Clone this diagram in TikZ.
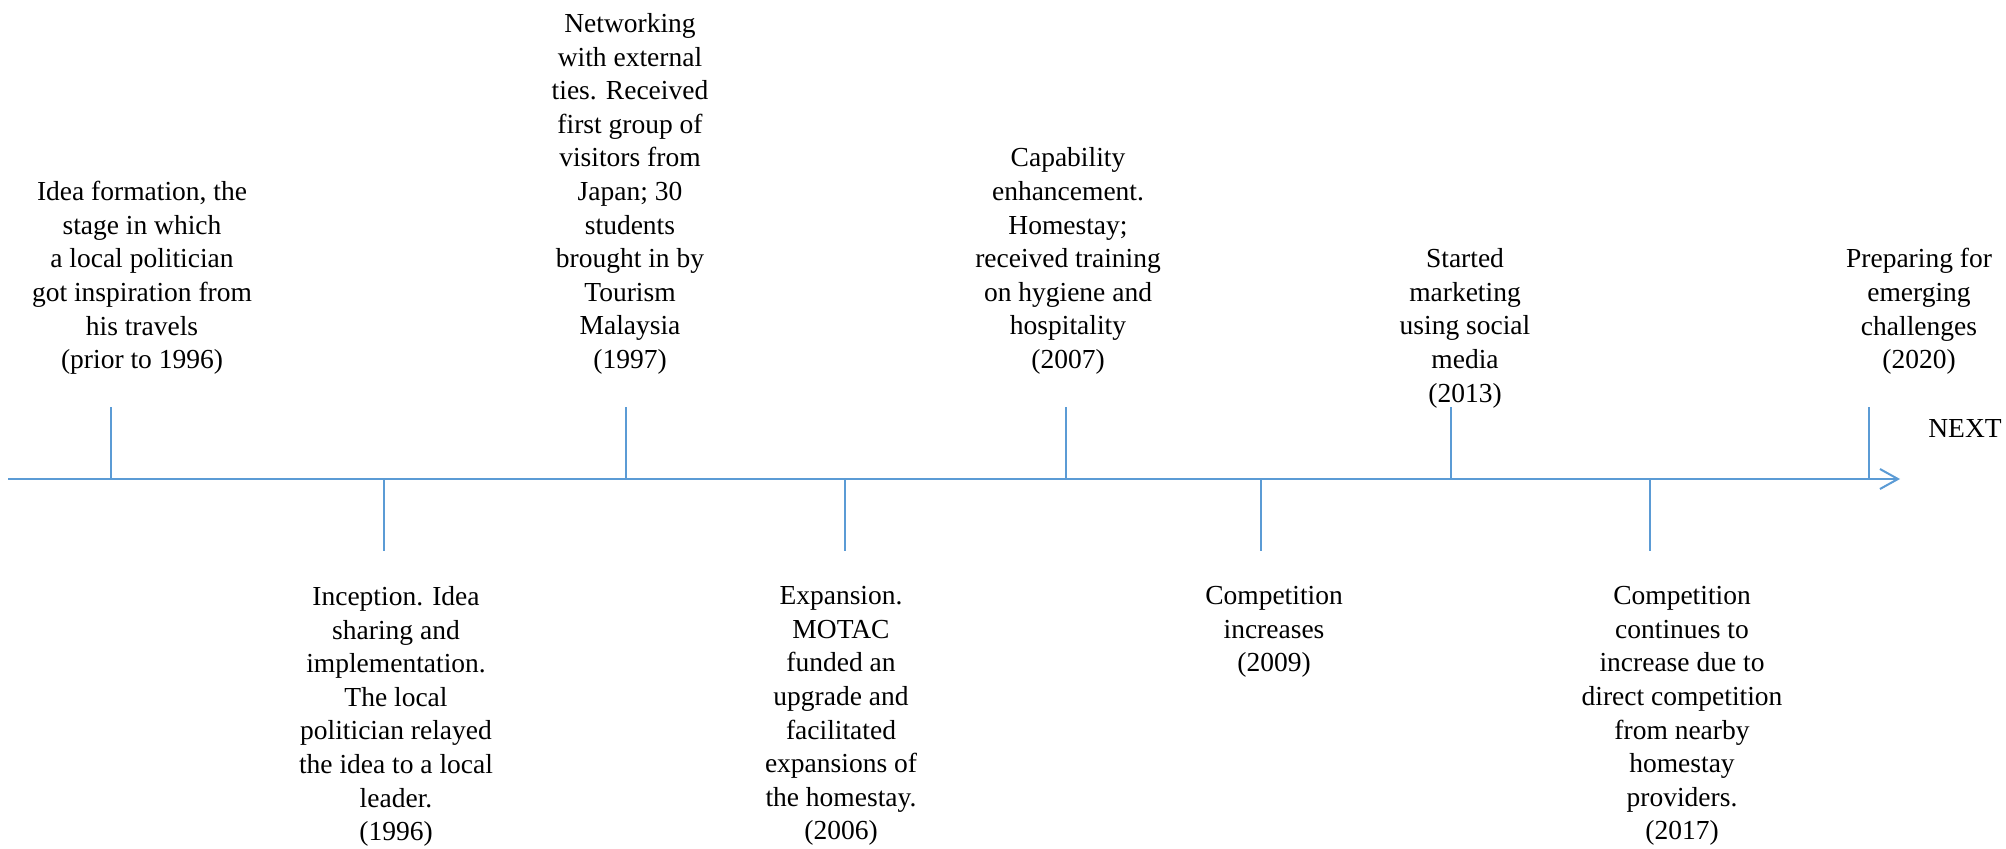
\documentclass[tikz,border=0pt]{standalone}
\usepackage{fontspec}
\setmainfont{Liberation Serif}
\usetikzlibrary{arrows.meta}
\definecolor{tlblue}{HTML}{5B9BD5}
\begin{document}
\begin{tikzpicture}[x=0.5pt,y=-0.5pt,
  axisline/.style={draw=tlblue,line width=1pt},
  lbl/.style={align=center,inner sep=0pt,anchor=north,font=\fontsize{13.75pt}{16.8pt}\selectfont,text=black}]
\useasboundingbox (0,0) rectangle (2006,848);
% axis
\coordinate (a0) at (8,479);
\coordinate (a1) at (1900,479);
\draw[axisline,-{Straight Barb[length=9pt,width=10pt]}] (a0) -- (a1);
% ticks above
\foreach \n/\x in {t1/111,t2/626,t3/1066,t4/1451,t5/1869}{
  \coordinate (\n top) at (\x,407);
  \coordinate (\n base) at (\x,479);
  \draw[axisline] (\n base) -- (\n top);
}
% ticks below
\foreach \n/\x in {b1/384,b2/845,b3/1261,b4/1650}{
  \coordinate (\n bot) at (\x,551);
  \coordinate (\n base) at (\x,479);
  \draw[axisline] (\n base) -- (\n bot);
}
% labels above
\node[lbl] (l1) at (142,181) {Idea formation, the\\stage in which\\a local politician\\got inspiration from\\his travels\\(prior to 1996)};
\node[lbl] (l2) at (630,13) {Networking\\with external\\ties. Received\\first group of\\visitors from\\Japan; 30\\students\\brought in by\\Tourism\\Malaysia\\(1997)};
\node[lbl] (l3) at (1068,147.4) {Capability\\enhancement.\\Homestay;\\received training\\on hygiene and\\hospitality\\(2007)};
\node[lbl] (l4) at (1465,248.2) {Started\\marketing\\using social\\media\\(2013)};
\node[lbl] (l5) at (1919,248.2) {Preparing for\\emerging\\challenges\\(2020)};
% labels below
\node[lbl] (m1) at (396,586) {Inception. Idea\\sharing and\\implementation.\\The local\\politician relayed\\the idea to a local\\leader.\\(1996)};
\node[lbl] (m2) at (841,586) {Expansion.\\MOTAC\\funded an\\upgrade and\\facilitated\\expansions of\\the homestay.\\(2006)};
\node[lbl] (m3) at (1274,586) {Competition\\increases\\(2009)};
\node[lbl] (m4) at (1682,586) {Competition\\continues to\\increase due to\\direct competition\\from nearby\\homestay\\providers.\\(2017)};
% NEXT
\node[lbl,anchor=base] (nx) at (1965,437) {NEXT};
\end{tikzpicture}
\end{document}
